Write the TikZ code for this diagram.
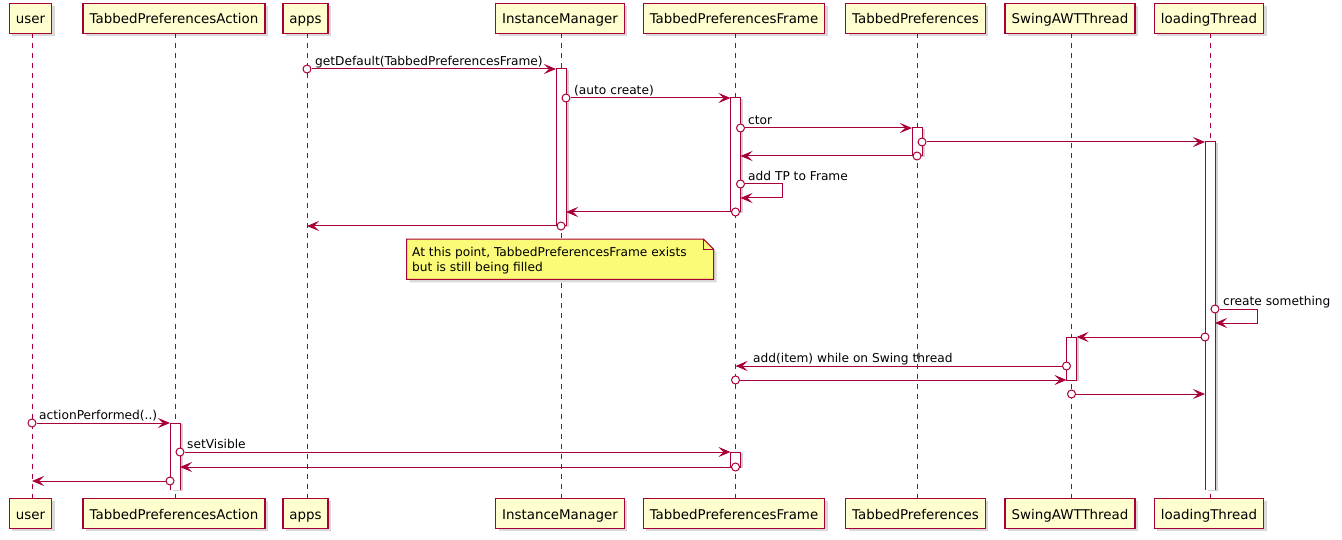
\documentclass[tikz,border=0pt]{standalone}
\usepackage{fontspec}
\setmainfont{DejaVu Sans}
\usetikzlibrary{arrows.meta,shadows}
\definecolor{umlred}{HTML}{A80036}
\definecolor{umlbox}{HTML}{FEFECE}
\definecolor{umlnote}{HTML}{FBFB77}
\tikzset{
  actor/.style={draw=umlred,fill=umlbox,line width=1.4pt,inner xsep=6.5pt,inner ysep=0pt,
    minimum height=30pt,text height=12pt,text depth=0.6pt,font=\fontsize{13.4}{16}\selectfont,
    drop shadow={shadow xshift=3pt,shadow yshift=-3pt,opacity=0.3}},
  lifeline/.style={umlred,line width=0.8pt,dash pattern=on 5pt off 5pt},
  msg/.style={umlred,line width=1pt,-{Stealth[length=12pt,width=10pt,inset=5pt]}},
  actbar/.style={fill=white,drop shadow={shadow xshift=2.5pt,shadow yshift=-1pt,opacity=0.35}},
  msglabel/.style={anchor=base west,inner sep=0pt,font=\fontsize{12.2}{15}\selectfont},
  notebox/.style={inner sep=0pt,minimum width=306.6pt,minimum height=40pt},
}
\def\startnode{\node[circle,draw=umlred,fill=white,line width=1pt,inner sep=0pt,minimum size=8pt]}
\def\drawmsg{\draw[msg]}
\def\drawbar{\draw[umlred,line width=1pt]}

\begin{document}
\begin{tikzpicture}[x=1pt,y=-1pt]
\useasboundingbox (0,0) rectangle (1342,540);
% participants
\node[actor] (user) at (30.5,18.3) {user};
\node[actor] (tpa) at (174,18.3) {TabbedPreferencesAction};
\node[actor] (apps) at (305.5,18.3) {apps};
\node[actor] (im) at (560,18.3) {InstanceManager};
\node[actor] (tpf) at (734,18.3) {TabbedPreferencesFrame};
\node[actor] (tp) at (915.5,18.3) {TabbedPreferences};
\node[actor] (swing) at (1070,18.3) {SwingAWTThread};
\node[actor] (lt) at (1209,18.3) {loadingThread};
\node[actor] (userb) at (30.5,513.3) {user};
\node[actor] (tpab) at (174,513.3) {TabbedPreferencesAction};
\node[actor] (appsb) at (305.5,513.3) {apps};
\node[actor] (imb) at (560,513.3) {InstanceManager};
\node[actor] (tpfb) at (734,513.3) {TabbedPreferencesFrame};
\node[actor] (tpb) at (915.5,513.3) {TabbedPreferences};
\node[actor] (swingb) at (1070,513.3) {SwingAWTThread};
\node[actor] (ltb) at (1209,513.3) {loadingThread};
% lifelines
\draw[lifeline] (32,33.5) -- (32,497.5);
\draw[lifeline] (175,33.5) -- (175,497.5);
\draw[lifeline] (307,33.5) -- (307,497.5);
\draw[lifeline] (561,33.5) -- (561,497.5);
\draw[lifeline] (735.5,33.5) -- (735.5,497.5);
\draw[lifeline] (917,33.5) -- (917,497.5);
\draw[lifeline] (1071.5,33.5) -- (1071.5,497.5);
\draw[lifeline] (1210,33.5) -- (1210,497.5);
% activations
\drawbar[actbar] (556,69) rectangle (566,226);
\drawbar[actbar] (730.5,98) rectangle (740.5,212);
\drawbar[actbar] (912,128) rectangle (922,156);
\fill[actbar] (1205,142) rectangle (1215,490);
\drawbar (1205,490) |- (1215,142) -- (1215,490);
\drawbar[actbar] (1066.5,337) rectangle (1076.5,380);
\fill[actbar] (170,423) rectangle (180,490);
\drawbar (170,490) |- (180,423) -- (180,490);
\drawbar[actbar] (730.5,452) rectangle (740.5,467);

% getDefault
\startnode (s1) at (307,69) {};
\coordinate (e1) at (556,69);
\drawmsg (s1) -- (e1);
\node[msglabel] (t1) at (315,65.5) {getDefault(TabbedPreferencesFrame)};
% auto create
\startnode (s2) at (566,98) {};
\coordinate (e2) at (730.5,98);
\drawmsg (s2) -- (e2);
\node[msglabel] (t2) at (574,94.5) {(auto create)};
% ctor
\startnode (s3) at (740.5,128) {};
\coordinate (e3) at (912,128);
\drawmsg (s3) -- (e3);
\node[msglabel] (t3) at (748,124.5) {ctor};
\startnode (s4) at (922,142) {};
\coordinate (e4) at (1205,142);
\drawmsg (s4) -- (e4);
\startnode (s5) at (917,156) {};
\coordinate (e5) at (740.5,156);
\drawmsg (s5) -- (e5);
% add TP to Frame
\startnode (s6) at (740.5,184) {};
\coordinate (e6) at (740.5,198);
\drawmsg (s6) -- (782,184) |- (e6);
\node[msglabel] (t6) at (748,180.5) {add TP to Frame};
\startnode (s7) at (735.5,212) {};
\coordinate (e7) at (566,212);
\drawmsg (s7) -- (e7);
\startnode (s8) at (561,226) {};
\coordinate (e8) at (307,226);
\drawmsg (s8) -- (e8);

% note
\node[notebox] (note) at (560,259.3) {};
\filldraw[umlred,fill=umlnote,line width=1pt,drop shadow={shadow xshift=3pt,shadow yshift=-3pt,opacity=0.3}]
  (note.south west) -- (note.north west) -- ([xshift=-10pt]note.north east)
  -- ([yshift=-10pt]note.north east) -- (note.south east) -- cycle;
\draw[umlred,line width=1pt] ([xshift=-10pt]note.north east) |- ([yshift=-10pt]note.north east);
\node[anchor=north west,align=left,inner sep=0pt,font=\fontsize{12.2}{15}\selectfont] (notetxt)
  at (412,247.5) {At this point, TabbedPreferencesFrame exists\\but is still being filled};

% create something
\startnode (s9) at (1215,309) {};
\coordinate (e9) at (1215,323);
\drawmsg (s9) -- (1257,309) |- (e9);
\node[msglabel] (t9) at (1223,305.5) {create something};
\startnode (s10) at (1205,337) {};
\coordinate (e10) at (1076.5,337);
\drawmsg (s10) -- (e10);
% add(item)
\startnode (s11) at (1066.5,366) {};
\coordinate (e11) at (735.5,366);
\drawmsg (s11) -- (e11);
\node[msglabel] (t11) at (753,362.5) {add(item) while on Swing thread};
\startnode (s12) at (735.5,380) {};
\coordinate (e12) at (1066.5,380);
\drawmsg (s12) -- (e12);
\startnode (s13) at (1071.5,394) {};
\coordinate (e13) at (1205,394);
\drawmsg (s13) -- (e13);

% actionPerformed
\startnode (s14) at (32,423) {};
\coordinate (e14) at (170,423);
\drawmsg (s14) -- (e14);
\node[msglabel] (t14) at (39,419.5) {actionPerformed(..)};
\startnode (s15) at (180,452) {};
\coordinate (e15) at (730.5,452);
\drawmsg (s15) -- (e15);
\node[msglabel] (t15) at (187,448.5) {setVisible};
\startnode (s16) at (735.5,467) {};
\coordinate (e16) at (180,467);
\drawmsg (s16) -- (e16);
\startnode (s17) at (170,481) {};
\coordinate (e17) at (32,481);
\drawmsg (s17) -- (e17);
\end{tikzpicture}
\end{document}
